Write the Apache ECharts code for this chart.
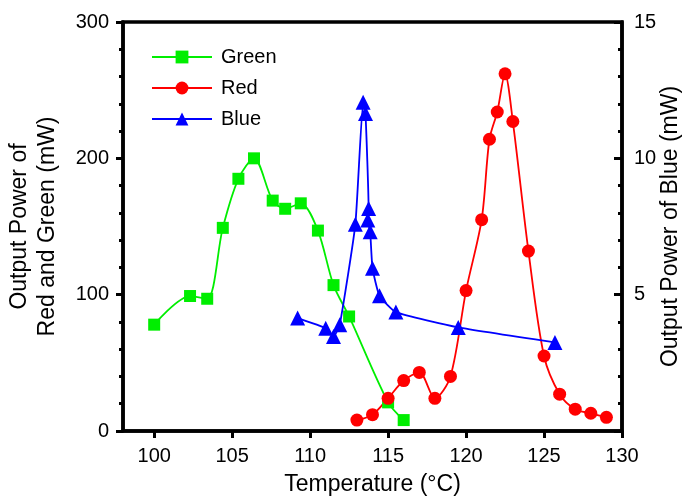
<!DOCTYPE html>
<html>
<head>
<meta charset="utf-8">
<script src="https://cdn.jsdelivr.net/npm/echarts@6/dist/echarts.min.js"></script>
<style>
  html, body { margin: 0; padding: 0; background: #fff; }
  #chart { width: 687px; height: 496px; }
</style>
</head>
<body>
<div id="chart"></div>
<script>
// temperature ticks on the x axis
const tempTicks = [100, 105, 110, 115, 120, 125, 130];

// green: temperature (°C) / output power (mW, left axis)
const greenTemp  = [100, 102.3, 103.4, 104.4, 105.4, 106.4, 107.6, 108.4, 109.4, 110.5, 111.5, 112.5, 115, 116];
const greenPower = [78, 99, 97, 149, 185, 200, 169, 163, 167, 147, 107, 84, 21, 8];

// red: temperature (°C) / output power (mW, left axis)
const redTemp  = [113, 114, 115, 116, 117, 118, 119, 120, 121, 121.5, 122, 122.5, 123, 124, 125, 126, 127, 128, 129];
const redPower = [8, 12, 24, 37, 43, 24, 40, 103, 155, 214, 234, 262, 227, 132, 55, 27, 16, 13, 10];

// blue: temperature (°C) / output power (mW, right axis)
const blueTemp  = [109.2, 111.0, 111.5, 111.9, 112.9, 113.4, 113.55, 113.75, 113.7, 113.85, 114.0, 114.45, 115.5, 119.5, 125.7];
const bluePower = [4.14, 3.77, 3.47, 3.9, 7.58, 12.06, 11.64, 8.16, 7.74, 7.31, 5.97, 4.96, 4.36, 3.8, 3.25];

const font = 'Liberation Sans, Arial, Helvetica, sans-serif';
const zip = (xs, ys) => xs.map((x, i) => [x, ys[i]]);

const chart = echarts.init(document.getElementById('chart'), null, { renderer: 'canvas' });

const axisLine = { show: true, onZero: false, lineStyle: { color: '#000', width: 3.5 } };

const option = {
    animation: false,
    backgroundColor: '#fff',
    textStyle: { fontFamily: font, color: '#000' },
    grid: {
        left: 123, right: 65, top: 22, bottom: 65,
        outerBoundsMode: 'none', containLabel: false,
        show: true, borderColor: '#000', borderWidth: 3.5, backgroundColor: 'transparent'
    },
    legend: {
        orient: 'vertical',
        left: 151,
        top: 47,
        padding: 0,
        itemWidth: 60,
        itemHeight: 16,
        itemGap: 11,
        textStyle: { fontSize: 20, fontFamily: font, color: '#000', padding: [0, 0, 0, 4] },
        data: ['Green', 'Red', 'Blue']
    },
    xAxis: {
        type: 'value',
        min: 98,
        max: 130,
        name: 'Temperature (°C)',
        nameLocation: 'middle',
        nameGap: 42,
        nameTextStyle: { fontSize: 23, fontFamily: font, color: '#000' },
        axisLine: axisLine,
        axisTick: { show: true, inside: false, length: 7, customValues: tempTicks, lineStyle: { color: '#000', width: 3 } },
        axisLabel: { fontSize: 20, color: '#000', margin: 15, customValues: tempTicks },
        splitLine: { show: false }
    },
    yAxis: [
        {
            type: 'value',
            min: 0,
            max: 300,
            interval: 100,
            position: 'left',
            name: 'Output Power of\nRed and Green (mW)',
            nameLocation: 'middle',
            nameRotate: 90,
            nameGap: 61,
            nameTextStyle: { fontSize: 23, fontFamily: font, color: '#000', lineHeight: 28 },
            axisLine: axisLine,
            axisTick: { show: true, inside: false, length: 7, lineStyle: { color: '#000', width: 3 } },
            minorTick: { show: true, splitNumber: 5, length: 4, lineStyle: { color: '#000', width: 3 } },
            axisLabel: { fontSize: 20, color: '#000', margin: 14 },
            splitLine: { show: false }
        },
        {
            type: 'value',
            min: 0,
            max: 15,
            interval: 5,
            position: 'right',
            name: 'Output Power of Blue (mW)',
            nameLocation: 'middle',
            nameRotate: 90,
            nameGap: 37,
            nameMoveOverlap: false,
            nameTextStyle: { fontSize: 23, fontFamily: font, color: '#000' },
            axisLine: axisLine,
            axisTick: { show: true, inside: true, length: 8, lineStyle: { color: '#000', width: 3 } },
            minorTick: { show: true, splitNumber: 5, length: 4, lineStyle: { color: '#000', width: 3 } },
            axisLabel: { fontSize: 20, color: '#000', margin: 12, formatter: v => (v === 0 ? '' : String(v)) },
            splitLine: { show: false }
        }
    ],
    series: [
        {
            name: 'Green',
            type: 'line',
            yAxisIndex: 0,
            data: zip(greenTemp, greenPower),
            smooth: 0.3,
            symbol: 'rect',
            symbolSize: 12,
            color: '#00ee00',
            lineStyle: { width: 1.8, color: '#00ee00' },
            itemStyle: { color: '#00ee00' }
        },
        {
            name: 'Red',
            type: 'line',
            yAxisIndex: 0,
            data: zip(redTemp, redPower),
            smooth: 0.3,
            symbol: 'circle',
            symbolSize: 13,
            color: '#ff0000',
            lineStyle: { width: 1.8, color: '#ff0000' },
            itemStyle: { color: '#ff0000' }
        },
        {
            name: 'Blue',
            type: 'line',
            yAxisIndex: 1,
            data: zip(blueTemp, bluePower),
            smooth: 0.15,
            symbol: 'triangle',
            symbolSize: 15,
            color: '#0000ff',
            lineStyle: { width: 1.8, color: '#0000ff' },
            itemStyle: { color: '#0000ff' }
        }
    ]
};

chart.setOption(option);
window.addEventListener('resize', function () {
    chart.resize();
});
</script>
</body>
</html>
